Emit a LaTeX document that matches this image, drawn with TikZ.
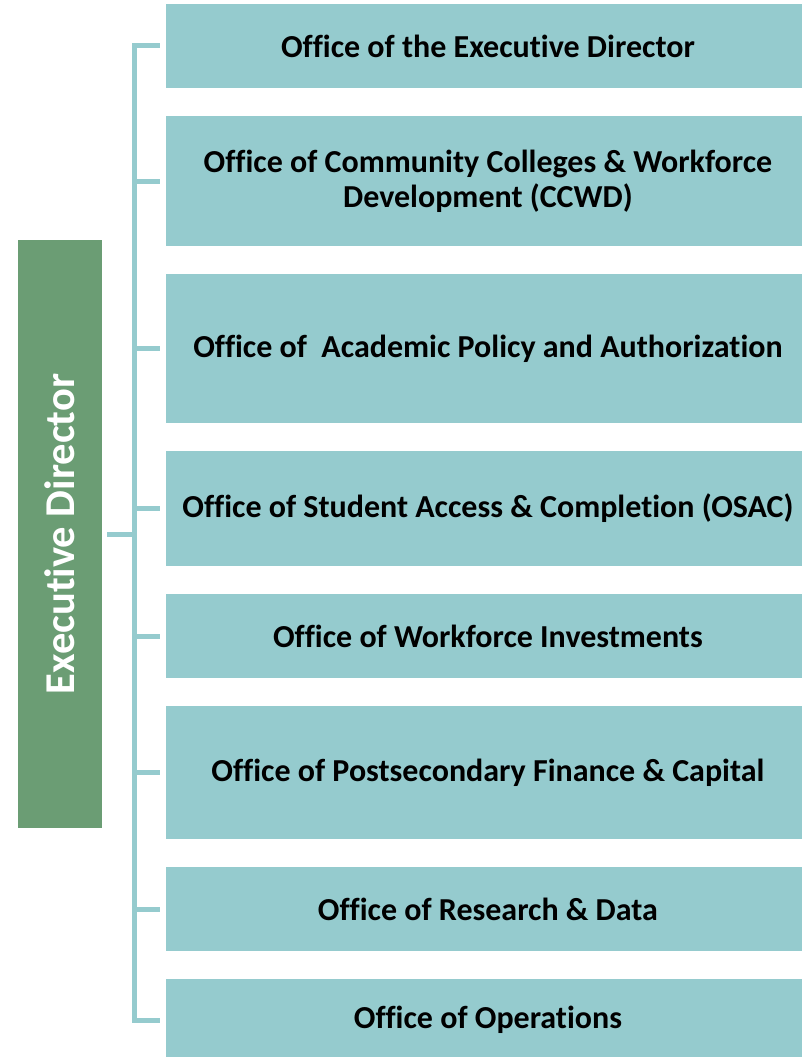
\documentclass[tikz,border=0pt]{standalone}
\usepackage{fontspec}
\setmainfont{Carlito}[Ligatures=NoCommon]
\usetikzlibrary{positioning,calc}

\definecolor{teal1}{RGB}{149,203,206}
\definecolor{green1}{RGB}{107,157,116}

\tikzset{
	office/.style={fill=teal1, draw=none, minimum width=644pt, align=center, inner sep=0pt,
		font=\fontsize{32}{35}\selectfont\bfseries},
	link/.style={draw=teal1, line width=5pt}
}

\begin{document}
\begin{tikzpicture}[x=1pt, y=-1pt]
	\useasboundingbox (0,0) rectangle (802,1057);

	\node[fill=green1, minimum width=84pt, minimum height=588pt, inner sep=0pt] (ed) at (60,534)
		{\rotatebox{90}{\fontsize{42.5}{48}\selectfont\bfseries\color{white}Executive Director}};

	\node[office, minimum height=84pt]  (oed)  at (488,46)    {Office of the Executive Director};
	\node[office, minimum height=130pt] (ccwd) at (488,181)   {Office of Community Colleges \& Workforce\\Development (CCWD)};
	\node[office, minimum height=149pt] (apa)  at (488,348.5) {Office of\ \ Academic Policy and Authorization};
	\node[office, minimum height=115pt] (osac) at (488,508.5) {Office of Student Access \& Completion (OSAC)};
	\node[office, minimum height=84pt]  (owi)  at (488,636)   {Office of Workforce Investments};
	\node[office, minimum height=133pt] (pfc)  at (488,772.5) {Office of Postsecondary Finance \& Capital};
	\node[office, minimum height=84pt]  (ord)  at (488,909)   {Office of Research \& Data};
	\node[office, minimum height=82pt]  (ops)  at (488,1020)  {Office of Operations};

	\coordinate (bus) at (134,534);

	% bracket
	\draw[link] ([xshift=-6pt]oed.west) -- (oed.west -| bus) -- (ops.west -| bus) -- ([xshift=-6pt]ops.west);
	\foreach \n in {ccwd,apa,osac,owi,pfc,ord}
		\draw[link] (\n.west -| bus) -- ([xshift=-6pt]\n.west);

	\draw[link] ([xshift=5pt]ed.east) -- (bus);
\end{tikzpicture}
\end{document}
